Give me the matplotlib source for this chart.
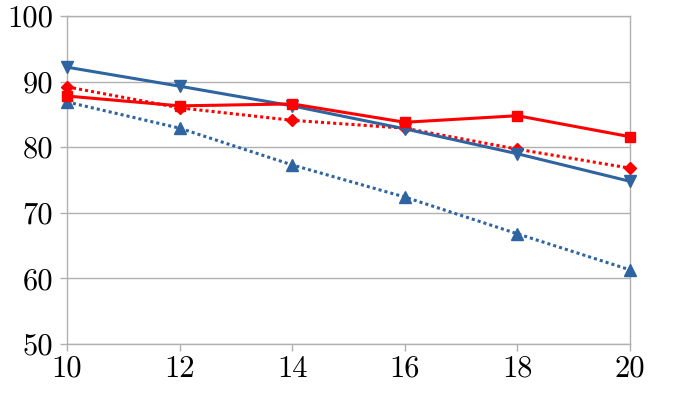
import matplotlib
matplotlib.use("Agg")
import matplotlib.pyplot as plt

x = [10, 12, 14, 16, 18, 20]
blue_solid = [92.2, 89.3, 86.3, 82.8, 79.0, 74.8]
red_solid = [87.8, 86.3, 86.6, 83.8, 84.8, 81.6]
red_dotted = [89.2, 86.0, 84.1, 82.9, 79.7, 76.8]
blue_dotted = [86.9, 82.9, 77.3, 72.4, 66.8, 61.3]
xticks = [10, 12, 14, 16, 18, 20]
yticks = [50, 60, 70, 80, 90, 100]

plt.rcParams['font.family'] = 'serif'
plt.rcParams['font.serif'] = ['cmr10', 'DejaVu Serif']
plt.rcParams['axes.formatter.use_mathtext'] = True

RED = '#ff0000'
BLUE = '#2e64a0'

fig = plt.figure(figsize=(6.79, 4.01), dpi=100)
ax = fig.add_axes([67/679, 57/401, 563/679, 328/401])

ax.plot(x, blue_dotted, color=BLUE, lw=2.2, ls=(0, (1, 1)), marker='^', ms=8.5, zorder=3, clip_on=False)
ax.plot(x, red_dotted, color=RED, lw=2.2, ls=(0, (1, 1)), marker='D', ms=6.5, zorder=4, clip_on=False)
ax.plot(x, blue_solid, color=BLUE, lw=2.2, marker='v', ms=8.5, zorder=5, clip_on=False)
ax.plot(x, red_solid, color=RED, lw=2.2, marker='s', ms=7.5, zorder=6, clip_on=False)

ax.set_xlim(10, 20)
ax.set_ylim(50, 100)
ax.set_xticks(xticks)
ax.set_yticks(yticks)
ax.set_xticklabels([str(v) for v in xticks])
ax.set_yticklabels([str(v) for v in yticks])
ax.yaxis.grid(True, color='#b0b0b0', lw=1)
ax.set_axisbelow(True)
for s in ['left', 'right', 'top', 'bottom']:
    ax.spines[s].set_color('#b0b0b0')
    ax.spines[s].set_linewidth(1)
ax.tick_params(axis='both', colors='#b0b0b0', labelcolor='black', labelsize=22, length=5, width=1)
ax.tick_params(axis='x', pad=3)
ax.tick_params(axis='y', pad=5)

fig.savefig('out.png', dpi=100)
